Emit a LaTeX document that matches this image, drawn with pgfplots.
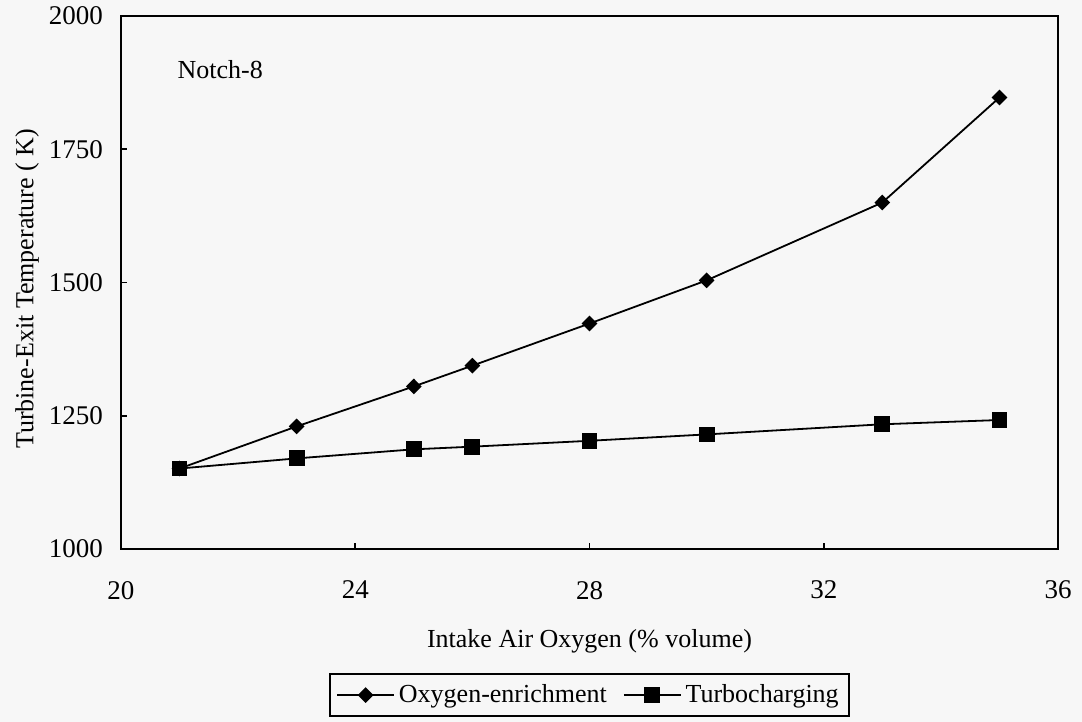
\documentclass[border=0pt]{standalone}
\usepackage{fontspec}
\setmainfont{Liberation Serif}
\usepackage{pgfplots}
\pgfplotsset{compat=1.18}
\definecolor{paper}{RGB}{247,247,247}

\begin{document}
\fontsize{13pt}{16pt}\selectfont
\begin{tikzpicture}
% page background and fixed frame
\fill[paper, use as bounding box] (-60.5pt,-86.5pt) rectangle (480.5pt,274.5pt);
\begin{axis}[
  name=ax,
  at={(0pt,0pt)}, anchor=south west,
  scale only axis,
  width=468.5pt, height=266.5pt,
  xmin=20, xmax=36, ymin=1000, ymax=2000,
  xtick={20,24,...,36}, ytick={1000,1250,...,2000},
  tick pos=left,
  tick align=inside,
  major tick length=3pt,
  axis line style={line width=1pt},
  tick style={line width=0.8pt, black},
  /pgf/number format/assume math mode=true,
  /pgf/number format/set thousands separator={},
  ticklabel style={font=\fontsize{13.5pt}{16pt}\selectfont},
  xticklabel style={yshift=-11.5pt},
  yticklabel style={xshift=-4.5pt},
  xlabel={Intake Air Oxygen (\% volume)},
  ylabel={Turbine-Exit Temperature ( K)},
  xlabel style={at={(axis description cs:0.5,-0.173)}, anchor=center},
  ylabel style={at={(axis description cs:-0.1003,0.488)}, anchor=center},
  legend style={at={(axis description cs:0.5,-0.274)}, anchor=center,
    legend columns=2, draw=black, line width=0.8pt, fill=paper,
    font=\fontsize{13pt}{16pt}\selectfont,
    inner xsep=3pt, inner ysep=3pt,
    /tikz/every even column/.append style={column sep=6pt}},
  legend cell align=left,
  legend image code/.code={%
    \draw[mark repeat=2, mark phase=2, #1]
      plot coordinates {(0cm,0cm) (0.5cm,0cm) (1.0cm,0cm)};},
]
\addplot[black, line width=0.9pt, mark=diamond*,
  mark options={solid, xscale=1.33}, mark size=3.3pt]
  coordinates {(21,1151) (23,1230) (25,1305) (26,1344) (28,1423) (30,1504) (33,1650) (35,1847)};
\addlegendentry{Oxygen-enrichment}
\addplot[black, line width=0.9pt, mark=square*,
  mark options={solid}, mark size=3.5pt]
  coordinates {(21,1151) (23,1170) (25,1187) (26,1192) (28,1203) (30,1215) (33,1234) (35,1242)};
\addlegendentry{Turbocharging}
\node[anchor=base west, inner sep=0pt] at (axis cs:20.96,1882) {Notch-8};
\end{axis}
\end{tikzpicture}
\end{document}
